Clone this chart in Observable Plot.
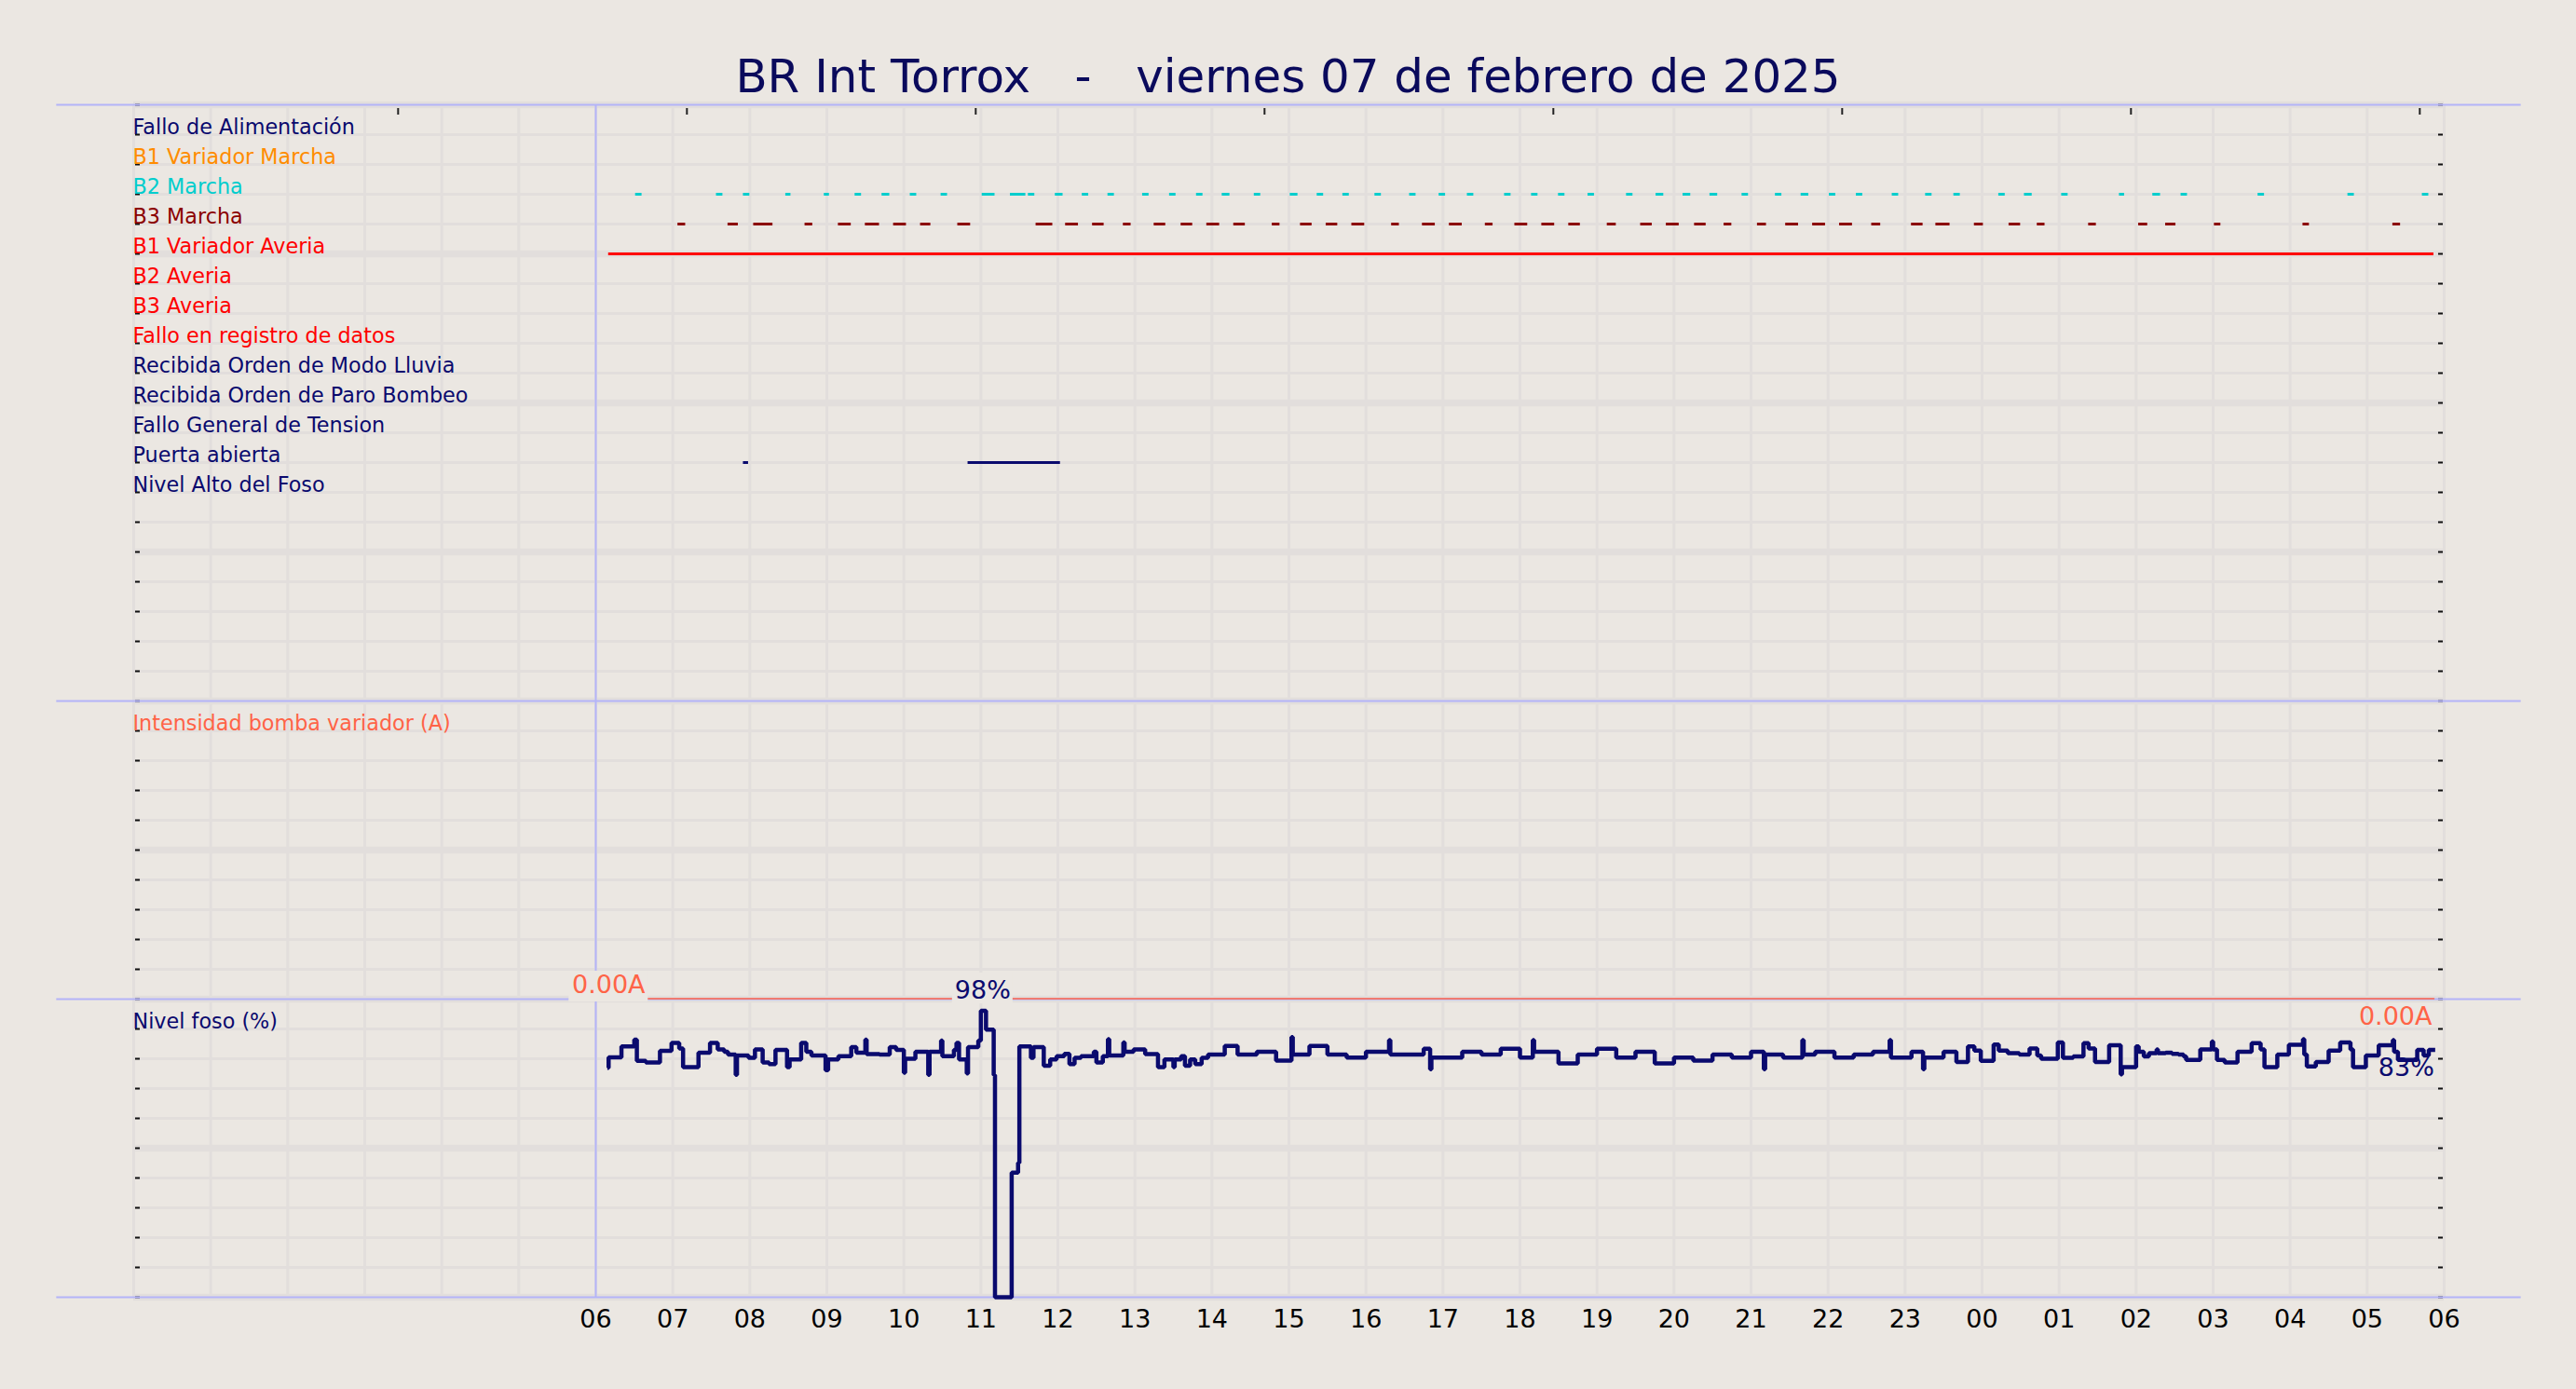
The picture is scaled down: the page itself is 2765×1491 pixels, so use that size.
<!DOCTYPE html>
<html><head><meta charset="utf-8">
<script src="https://cdn.jsdelivr.net/npm/d3@7"></script>
<script src="https://cdn.jsdelivr.net/npm/@observablehq/plot@0.6"></script>
<style>
html,body{margin:0;padding:0;background:#ebe7e2;}
#title{position:relative;height:100px;width:2765px;}
#title span{position:absolute;left:0;right:0;text-align:center;top:57px;font-family:"DejaVu Sans";font-size:49.9px;line-height:50px;color:#0a0a5c;white-space:pre;}
</style></head>
<body>
<div id="title"><span id="tt"></span></div>
<div id="chart"></div>
<script>
const title = "BR Int Torrox   -   viernes 07 de febrero de 2025";

const channelLabels = ["Fallo de Alimentación","B1 Variador Marcha","B2 Marcha","B3 Marcha","B1 Variador Averia","B2 Averia","B3 Averia","Fallo en registro de datos","Recibida Orden de Modo Lluvia","Recibida Orden de Paro Bombeo","Fallo General de Tension","Puerta abierta","Nivel Alto del Foso"];
const channelColors = ["#0a0a6e","#ff8c00","#00cdcd","#8b0000","#ff0000","#ff0000","#ff0000","#ff0000","#0a0a6e","#0a0a6e","#0a0a6e","#0a0a6e","#0a0a6e"];

const b2MarchaStart = ["06:31","07:34","07:55","08:28","08:58","09:22","09:43","10:05","10:29","11:01","11:23","11:37","11:58","12:19","12:39","13:06","13:27","13:48","14:08","14:33","15:01","15:22","15:42","16:07","16:34","16:57","17:19","17:48","18:09","18:30","18:53","19:23","19:46","20:07","20:28","20:53","21:19","21:39","22:01","22:22","22:50","23:16","23:38","00:13","00:33","01:02","01:47","02:13","02:35","03:35","04:45","05:43"];
const b2MarchaEnd   = ["06:36","07:39","08:00","08:32","09:02","09:27","09:49","10:10","10:34","11:11","11:35","11:42","12:04","12:24","12:44","13:11","13:32","13:53","14:14","14:38","15:07","15:27","15:47","16:12","16:39","17:02","17:24","17:53","18:14","18:35","18:58","19:28","19:52","20:13","20:34","20:58","21:24","21:45","22:06","22:27","22:55","23:21","23:43","00:18","00:39","01:07","01:51","02:19","02:40","03:40","04:50","05:48"];

const b3MarchaStart = ["07:04","07:43","08:03","08:43","09:09","09:30","09:52","10:13","10:42","11:43","12:06","12:27","12:51","13:15","13:36","13:56","14:17","14:47","15:09","15:29","15:49","16:20","16:44","17:05","17:33","17:56","18:17","18:38","19:08","19:34","19:54","20:16","20:39","21:05","21:27","21:48","22:09","22:34","23:05","23:24","23:54","00:21","00:43","01:23","02:02","02:23","03:01","04:10","05:20"];
const b3MarchaEnd   = ["07:10","07:51","08:18","08:49","09:19","09:41","10:02","10:21","10:52","11:56","12:16","12:36","12:57","13:24","13:45","14:06","14:26","14:53","15:18","15:38","15:59","16:26","16:54","17:15","17:39","18:06","18:27","18:47","19:15","19:43","20:04","20:25","20:45","21:12","21:37","21:58","22:19","22:41","23:14","23:35","00:01","00:30","00:49","01:29","02:09","02:31","03:06","04:15","05:26"];

const b1AveriaStart = ["06:10"];
const b1AveriaEnd   = ["05:52"];

const puertaStart = ["07:55","10:50"];
const puertaEnd   = ["07:59","12:02"];

const intensidadTimes  = ["06:10","05:52"];
const intensidadValues = [0, 0];

// Nivel foso (%): change points, morning / afternoon-evening / night
const nivelTimesMorning = ["06:09","06:10","06:20","06:30","06:32","06:39","06:50","06:59","07:05","07:08","07:20","07:29","07:35","07:40","07:43","07:49","07:50","07:59","08:04","08:10","08:15","08:20","08:29","08:31","08:40","08:44","08:48","08:59","09:01","09:09","09:19","09:23","09:30","09:31","09:41","09:49","09:54","10:00","10:01","10:09","10:19","10:20","10:29","10:30","10:39","10:41","10:43","10:49","10:50","10:58","11:00","11:04","11:10","11:11","11:24","11:29","11:30","11:39","11:41","11:49","11:54","11:59","12:05","12:09","12:13","12:18","12:28","12:30","12:35","12:39","12:40","12:51","12:52","12:59","13:08","13:18","13:23","13:30","13:31","13:36","13:39","13:43","13:47","13:52","13:57"];
const nivelValuesMorning = [78.5,82.1,85.8,88.1,80.9,80.3,84.3,87.0,85.1,78.7,83.7,87.0,84.8,84.0,83.0,76.1,82.7,81.9,84.8,80.3,79.8,84.6,78.7,81.4,87.0,84.0,82.7,77.7,81.4,82.5,85.6,83.7,88.1,83.2,83.0,85.6,84.6,76.8,81.6,84.0,76.1,84.0,87.8,82.5,84.6,87.0,81.4,76.6,85.6,87.8,98.0,91.6,76.0,0,42.6,46.0,85.8,81.9,85.6,79.2,81.4,82.5,83.3,79.8,81.9,82.5,84.0,80.3,82.5,88.3,82.7,87.2,84.0,84.8,83.2,78.7,81.4,78.7,81.4,82.5,79.2,81.4,79.8,81.9,83.0];
const nivelTimesEvening = ["14:10","14:20","14:35","14:50","15:02","15:03","15:16","15:30","15:45","16:00","16:18","16:19","16:45","16:50","16:51","17:15","17:30","17:45","18:00","18:10","18:11","18:30","18:45","19:00","19:15","19:30","19:45","20:00","20:15","20:30","20:45","21:00","21:10","21:11","21:25","21:40","21:41","21:50","22:05","22:20","22:35","22:48","22:49","23:05","23:14","23:15","23:30"];
const nivelValuesEvening = [86,83,84,81,89,83,86,83,82,84,88,83,85,78,82,84,83,85,82,88,84,80,83,85,82,84,80,82,81,83,82,84,78,83,82,88,83,84,82,83,84,88,82,84,78,82,84];
const nivelTimesNight = ["23:40","23:49","23:54","23:59","00:09","00:13","00:20","00:29","00:37","00:43","00:46","00:59","01:03","01:11","01:19","01:23","01:28","01:39","01:48","01:49","02:00","02:02","02:06","02:10","02:16","02:17","02:23","02:28","02:33","02:37","02:39","02:50","02:59","03:00","03:03","03:09","03:19","03:30","03:37","03:40","03:50","03:59","04:10","04:11","04:13","04:20","04:30","04:39","04:47","04:49","04:59","05:09","05:20","05:21","05:24","05:39","05:44","05:48","05:53"];
const nivelValuesNight = [80.5,85.8,84.4,80.9,86.5,84.4,83.5,83.0,85.1,82.7,81.6,87.2,81.9,82.4,86.9,85.1,80.5,86.2,76.3,78.7,85.8,84.0,82.4,83.5,84.8,83.5,83.7,83.3,83.0,82.4,81.2,84.8,87.5,84.8,81.2,80.3,84.0,86.9,84.8,78.7,83.0,86.4,88.3,83.0,79.0,80.5,84.4,87.2,84.8,78.7,82.7,86.2,88.0,84.0,81.2,84.6,82.7,84.6,84.6];

const maxLabel = "98%";
const lastNivelLabel = "83%";
const ampFirstLabel = "0.00A";
const ampLastLabel = "0.00A";
const topTickTimes = ["2025-02-06T03:26Z","2025-02-06T07:11Z","2025-02-06T10:56Z","2025-02-06T14:41Z","2025-02-06T18:26Z","2025-02-06T22:11Z","2025-02-07T01:56Z","2025-02-07T05:41Z"];

// ---------- layout / styles ----------
document.getElementById("tt").textContent = title;
const BG = "#ebe7e2", GRID = "#e2dedc", BLUE = "#b4b4f8", NAVY = "#0a0a6e", TOMATO = "#ff6347";
const W = 2765, ML = 143, MR = 142, MT = 12, MB = 60, ROWH = 32, NROWS = 40;
const FW = W - ML - MR;
const H = MT + MB + NROWS * ROWH;
const day0 = Date.UTC(2025, 1, 6);
const T = s => { const [h, m] = s.split(":").map(Number); return new Date(day0 + ((h < 6 ? h + 24 : h) * 60 + m) * 60000); };
const tMin = m => new Date(day0 + m * 60000);
const xStart = tMin(0), xEnd = tMin(30 * 60);

// rows: panel 1 = rows 0..20, panel 2 = 20..30, panel 3 = 30..40
const ampRow = a => 30 - a / 10 * 10;
const nivRow = v => 40 - v / 102 * 10;

const segs = (starts, ends, row, color) => starts.map((s, i) => ({start: T(s), end: T(ends[i]), row, color}));
const segments = [
  ...segs(b2MarchaStart, b2MarchaEnd, 3, channelColors[2]),
  ...segs(b3MarchaStart, b3MarchaEnd, 4, channelColors[3]),
  ...segs(b1AveriaStart, b1AveriaEnd, 5, channelColors[4]),
  ...segs(puertaStart, puertaEnd, 12, channelColors[11])
];
const labels = channelLabels.map((l, i) => ({label: l, color: channelColors[i], row: i + 1}))
  .concat([{label: "Intensidad bomba variador (A)", color: TOMATO, row: 21}, {label: "Nivel foso (%)", color: NAVY, row: 31}]);
const nivelTimes = [...nivelTimesMorning, ...nivelTimesEvening, ...nivelTimesNight];
const nivelValues = [...nivelValuesMorning, ...nivelValuesEvening, ...nivelValuesNight];
const nivel = nivelTimes.map((t, i) => ({t: T(t), v: nivelValues[i]}));
const amp = intensidadTimes.map((t, i) => ({t: T(t), a: intensidadValues[i]}));
const peak = nivel[d3.maxIndex(nivel, d => d.v)];
const firstAmp = amp[0], lastAmp = amp[amp.length - 1], lastNiv = nivel[nivel.length - 1];

const hours = d3.range(0, 31).map(h => tMin(h * 60));
const xLabels = d3.range(6, 31).map(h => tMin(h * 60));
const rows = d3.range(0, NROWS + 1);

const chart = Plot.plot({
  width: W, height: H,
  marginLeft: ML, marginRight: MR, marginTop: MT, marginBottom: MB,
  style: {background: BG, fontFamily: "DejaVu Sans", overflow: "visible"},
  x: {type: "utc", domain: [xStart, xEnd], axis: null},
  y: {domain: [0, NROWS], range: [MT, MT + NROWS * ROWH], axis: null},
  color: {type: "identity"},
  marks: [
    Plot.ruleX(hours, {x: d => d, stroke: GRID, strokeWidth: 3}),
    Plot.ruleY(rows.filter(r => r % 5 !== 0), {y: d => d, stroke: GRID, strokeWidth: 3}),
    Plot.ruleY(rows.filter(r => r % 5 === 0), {y: d => d, stroke: GRID, strokeWidth: 7.5}),
    Plot.tickY(rows, {y: d => d, stroke: "#111", strokeWidth: 2, insetLeft: 2, insetRight: FW - 7}),
    Plot.tickY(rows, {y: d => d, stroke: "#111", strokeWidth: 2, insetLeft: FW - 6, insetRight: 1}),
    Plot.tickX(topTickTimes.map(s => new Date(s)), {x: d => d, stroke: "#222", strokeWidth: 2, insetTop: 4, insetBottom: NROWS * ROWH - 11}),
    Plot.ruleY([0, 20, 30, 40], {y: d => d, x1: () => tMin(-60), x2: () => tMin(31 * 60), stroke: BLUE, strokeWidth: 2}),
    Plot.ruleX([T("06:00")], {x: d => d, y1: () => 0, y2: () => NROWS, stroke: BLUE, strokeWidth: 2}),
    // panel 1 states
    Plot.ruleY(segments, {x1: "start", x2: "end", y: "row", stroke: "color", strokeWidth: 3}),
    // panel 2 current
    Plot.line(amp, {x: "t", y: d => ampRow(d.a), stroke: TOMATO, strokeWidth: 1.6, dy: -0.5, curve: "step-after"}),
    // panel 3 level
    Plot.line(nivel, {x: "t", y: d => nivRow(d.v), stroke: NAVY, strokeWidth: 4.5, curve: "step-after", strokeLinejoin: "miter", strokeLinecap: "butt"}),
    // label boxes
    Plot.rect([firstAmp], {x1: "t", x2: "t", y1: () => 30, y2: () => 30, insetLeft: -42.5, insetRight: -42.5, insetTop: -30, insetBottom: -3, fill: BG}),
    Plot.rect([peak], {x1: "t", x2: "t", y1: () => 30, y2: () => 30, insetLeft: -30.5, insetRight: -34.5, insetTop: -28, insetBottom: -5, fill: BG}),
    // value labels
    Plot.text([firstAmp], {x: "t", y: d => ampRow(d.a), text: () => ampFirstLabel, fill: TOMATO, fontSize: 27, textAnchor: "middle", lineAnchor: "bottom", dy: -7}),
    Plot.text([lastAmp], {x: "t", y: d => ampRow(d.a), text: () => ampLastLabel, fill: TOMATO, fontSize: 27, textAnchor: "end", lineAnchor: "top", dy: 8, dx: -2}),
    Plot.text([peak], {x: "t", y: () => 30, text: () => maxLabel, fill: NAVY, fontSize: 27, textAnchor: "middle", lineAnchor: "bottom", dy: -1, dx: 2}),
    Plot.text([lastNiv], {x: "t", y: d => nivRow(d.v), text: () => lastNivelLabel, fill: NAVY, fontSize: 27, textAnchor: "end", lineAnchor: "top", dy: 9, dx: -1}),
    // channel labels
    Plot.text(labels, {x: () => xStart, y: "row", text: "label", fill: "color", fontSize: 22.3, textAnchor: "start", lineAnchor: "bottom", dy: -1, dx: -1}),
    // x tick labels
    Plot.text(xLabels, {x: d => d, y: () => NROWS, text: d => d3.utcFormat("%H")(d), fill: "#000", fontSize: 27, textAnchor: "middle", lineAnchor: "top", dy: 13})
  ]
});
document.getElementById("chart").append(chart);
</script>
</body></html>
